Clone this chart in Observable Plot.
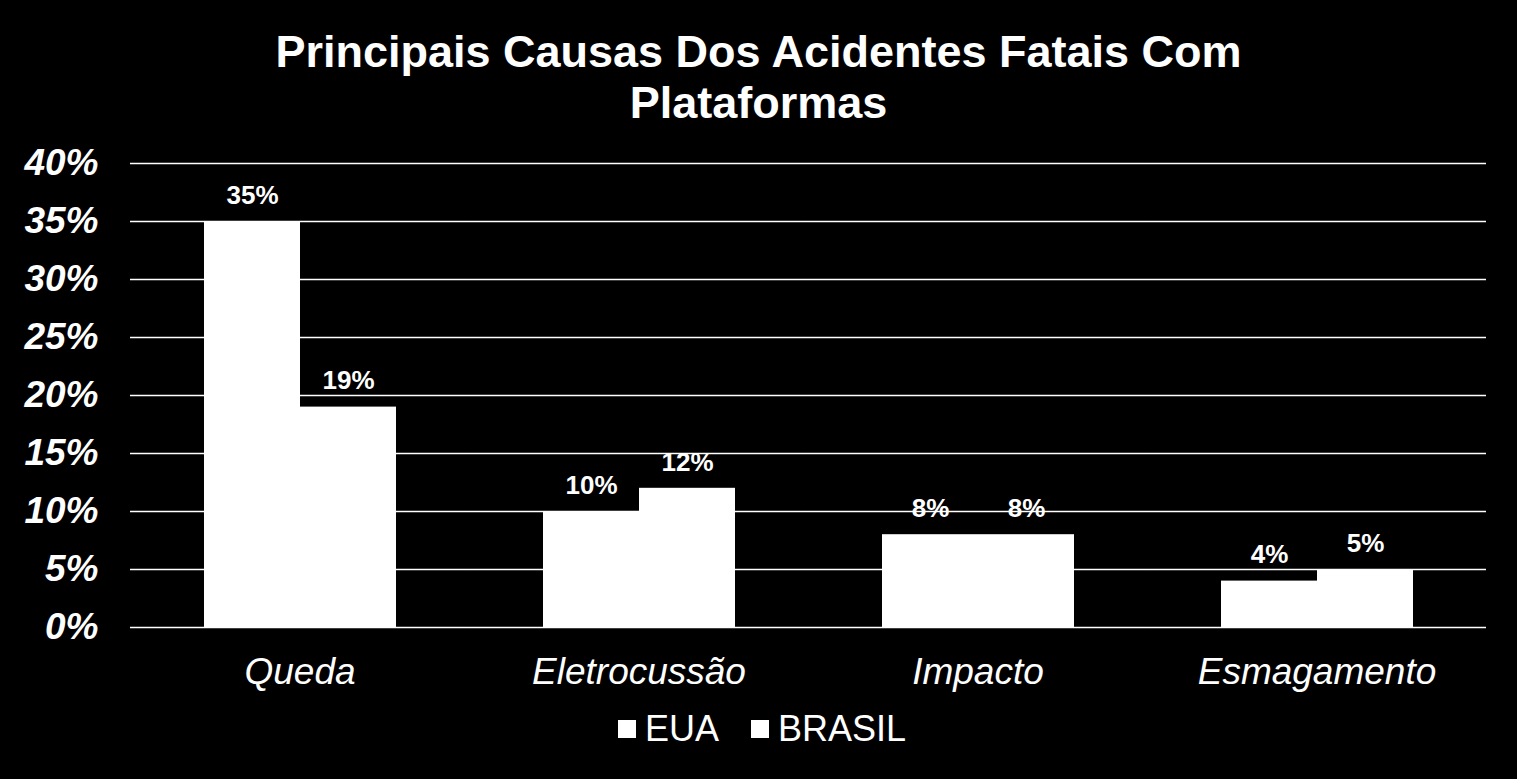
<!DOCTYPE html>
<html>
<head>
<meta charset="utf-8">
<script src="https://cdn.jsdelivr.net/npm/d3@7"></script>
<script src="https://cdn.jsdelivr.net/npm/@observablehq/plot@0.6"></script>
<style>
  html, body { margin: 0; padding: 0; background: #000; overflow: hidden; }
  #wrap { position: relative; width: 1517px; height: 779px; background: #000; color: #fff;
          font-family: "Liberation Sans", Arial, sans-serif; }
  #title { position: absolute; left: 0; top: 26px; width: 1517px; text-align: center;
           font-weight: bold; font-size: 45px; line-height: 51px; }
  #chart { position: absolute; left: 0; top: 0; }
  #legend { position: absolute; left: 618px; top: 709px; display: flex; align-items: center;
            font-size: 36px; line-height: 40px; }
  #legend .sw { display: inline-block; width: 18px; height: 18px; background: #fff; margin-right: 9px; }
  #legend .item { display: flex; align-items: center; margin-right: 32px; }
  svg [aria-label="y-axis tick label"] text { font-weight: bold; font-style: italic; font-size: 37px; }
  svg [aria-label="fx-axis tick label"] text { font-style: italic; font-size: 37px; }
</style>
</head>
<body>
<div id="wrap">
  <div id="title">Principais Causas Dos Acidentes Fatais Com<br>Plataformas</div>
  <div id="chart"></div>
  <div id="legend"></div>
</div>
<script>
const categories = ["Queda", "Eletrocussão", "Impacto", "Esmagamento"];
const seriesNames = ["EUA", "BRASIL"];
const euaValues = [0.35, 0.10, 0.08, 0.04];
const brasilValues = [0.19, 0.12, 0.08, 0.05];
const yTicks = [0, 0.05, 0.10, 0.15, 0.20, 0.25, 0.30, 0.35, 0.40];

const data = [];
categories.forEach((c, i) => {
  data.push({cause: c, series: "EUA", value: euaValues[i]});
  data.push({cause: c, series: "BRASIL", value: brasilValues[i]});
});

const W = 1517, H = 779;
const mL = 129, mR = 30, mT = 163, mB = 152;
const padInner = 0.43;
const step = (W - mL - mR) / categories.length;
const half = step * padInner / 2;
const pct = d3.format(".0%");

const plot = Plot.plot({
  width: W,
  height: H,
  marginLeft: mL,
  marginRight: mR,
  marginTop: mT,
  marginBottom: mB,
  style: {background: "transparent", color: "#fff", fontFamily: "'Liberation Sans', Arial, sans-serif"},
  fx: {domain: categories, paddingInner: padInner, paddingOuter: padInner / 2, label: null},
  x: {domain: seriesNames, padding: 0, axis: null},
  y: {domain: [0, 0.4], axis: null},
  marks: [
    Plot.ruleY(yTicks, {y: d => d, stroke: "#fff", strokeWidth: 1.5, insetLeft: -half, insetRight: -half}),
    Plot.barY(data, {fx: "cause", x: "series", y: "value", fill: "#fff"}),
    Plot.text(data, {fx: "cause", x: "series", y: "value", text: d => pct(d.value),
      fill: "#fff", fontWeight: "bold", fontSize: 26, lineAnchor: "middle", dy: -26}),
    Plot.axisFx({anchor: "bottom", tickSize: 0, tickPadding: 30, label: null, fontSize: 37, fontStyle: "italic"}),
    Plot.axisY({anchor: "left", ticks: yTicks, tickFormat: pct, tickSize: 0, tickPadding: 32 + half, label: null,
      fontSize: 37, fontWeight: "bold", fontStyle: "italic"})
  ]
});
document.getElementById("chart").appendChild(plot);

const legend = document.getElementById("legend");
seriesNames.forEach(s => {
  const item = document.createElement("div");
  item.className = "item";
  const sw = document.createElement("span");
  sw.className = "sw";
  const t = document.createElement("span");
  t.textContent = s;
  item.appendChild(sw);
  item.appendChild(t);
  legend.appendChild(item);
});
</script>
</body>
</html>
